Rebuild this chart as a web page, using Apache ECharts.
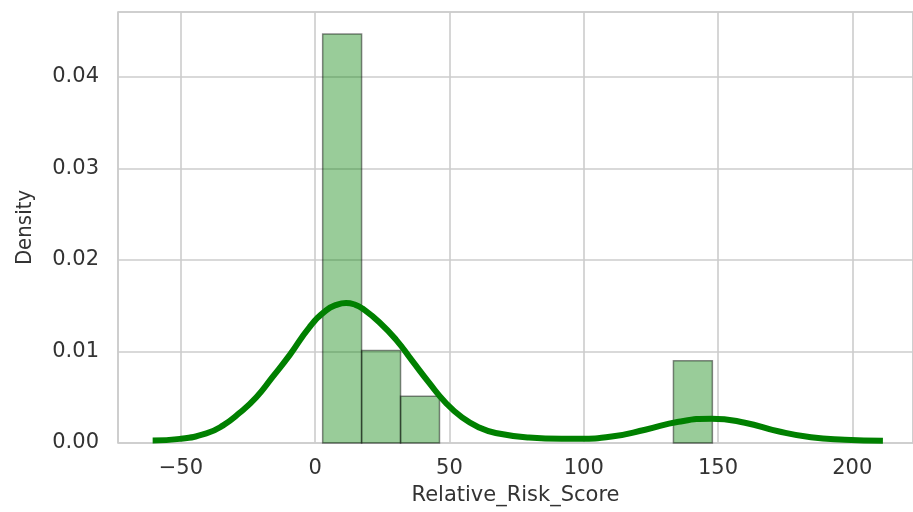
<!DOCTYPE html>
<html>
<head>
<meta charset="utf-8">
<script src="https://cdn.jsdelivr.net/npm/echarts@6/dist/echarts.min.js"></script>
<style>
  html, body { margin: 0; padding: 0; background: #ffffff; }
  #chart { width: 913px; height: 512px; }
</style>
</head>
<body>
<div id="chart"></div>
<script>
// Histogram of Relative_Risk_Score (density-normalised, 10 bins)
const binEdges = [2.8, 17.3, 31.8, 46.3, 60.8, 75.4, 89.9, 104.4, 118.9, 133.4, 147.9];
const binDensity = [0.0447, 0.0101, 0.0051, 0, 0, 0, 0, 0, 0, 0.0090];

// Kernel density estimate curve
const kdeX = [-60.5, -50.4, -40.5, -34.4, -28.1, -21.9, -15.9, -9.5, -2.0, 4.1, 8.0, 11.5, 15.0, 17.6, 23.9, 30.1, 36.1, 42.4, 48.6, 54.7, 61.0, 67.2, 79.6, 91.8, 98.1, 110.4, 122.9, 135.3, 147.5, 160.0, 172.4, 184.6, 197.2, 211.4];
const kdeY = [0.00028, 0.00045, 0.00105, 0.0019, 0.0033, 0.0050, 0.0072, 0.0096, 0.0127, 0.0145, 0.0151, 0.0153, 0.0151, 0.0147, 0.0132, 0.0113, 0.0090, 0.0066, 0.0044, 0.0028, 0.0017, 0.0011, 0.0006, 0.00046, 0.00046, 0.0007, 0.00145, 0.00232, 0.00266, 0.00222, 0.00128, 0.00062, 0.00036, 0.00025];

const xRange = [-73.4, 222.6];
const yRange = [0, 0.0471];

const xTitle = 'Relative_Risk_Score';
const yTitle = 'Density';

const textColor = '#333333';
const gridColor = '#cccccc';
const font = 'DejaVu Sans';

const histData = [];
for (let i = 0; i < binDensity.length; i++) {
  if (binDensity[i] > 0) histData.push([binEdges[i], binEdges[i + 1], binDensity[i]]);
}
const kdeData = kdeX.map((x, i) => [x, kdeY[i]]);

const chart = echarts.init(document.getElementById('chart'), null, { renderer: 'canvas' });

chart.setOption({
  animation: false,
  backgroundColor: '#ffffff',
  grid: {
    left: 118, top: 12, right: -2, bottom: 69,
    show: true, borderColor: gridColor, borderWidth: 1.6, backgroundColor: 'transparent'
  },
  xAxis: {
    type: 'value',
    min: xRange[0], max: xRange[1],
    minInterval: 50, maxInterval: 50, splitNumber: 6,
    axisLine: { show: false },
    axisTick: { show: false },
    axisLabel: {
      showMinLabel: false, showMaxLabel: false,
      margin: 15, fontSize: 21, fontFamily: font, color: textColor,
      formatter: v => (Math.abs(v % 50) < 1e-6 ? String(v).replace('-', '\u2212') : '')
    },
    splitLine: { show: true, lineStyle: { color: gridColor, width: 1.6 } },
    name: xTitle, nameLocation: 'middle', nameGap: 42,
    nameTextStyle: { fontSize: 21, fontFamily: font, color: textColor }
  },
  yAxis: {
    type: 'value',
    min: yRange[0], max: yRange[1], interval: 0.01,
    axisLine: { show: false },
    axisTick: { show: false },
    axisLabel: {
      showMaxLabel: false,
      margin: 19, fontSize: 21, fontFamily: font, color: textColor,
      formatter: v => v.toFixed(2)
    },
    splitLine: { show: true, lineStyle: { color: gridColor, width: 1.6 } },
    name: yTitle, nameLocation: 'middle', nameGap: 82, nameRotate: 90,
    nameTextStyle: { fontSize: 22, fontFamily: 'DejaVu Sans Condensed, DejaVu Sans', color: textColor }
  },
  series: [
    {
      type: 'custom',
      name: 'histogram',
      data: histData,
      encode: { x: [0, 1], y: 2 },
      z: 2,
      renderItem: (params, api) => {
        const base = api.coord([api.value(0), 0]);
        const top = api.coord([api.value(1), api.value(2)]);
        return {
          type: 'rect',
          shape: { x: base[0], y: top[1], width: top[0] - base[0], height: base[1] - top[1] },
          style: { fill: 'rgba(0,128,0,0.4)', stroke: 'rgba(0,0,0,0.45)', lineWidth: 1.5 }
        };
      }
    },
    {
      type: 'line',
      name: 'kde',
      data: kdeData,
      smooth: 0.5,
      symbol: 'none',
      z: 3,
      lineStyle: { color: '#008000', width: 6, cap: 'butt' }
    }
  ]
});
</script>
</body>
</html>
